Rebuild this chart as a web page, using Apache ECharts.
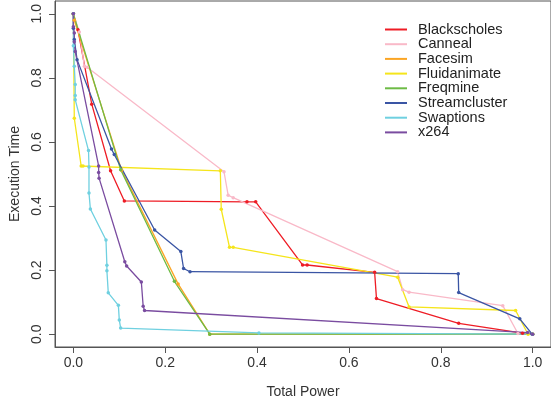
<!DOCTYPE html>
<html>
<head>
<meta charset="utf-8">
<script src="https://cdn.jsdelivr.net/npm/echarts@6/dist/echarts.min.js"></script>
<style>
html,body{margin:0;padding:0;background:#fff;}
#chart{width:551px;height:404px;}
</style>
</head>
<body>
<div id="chart"></div>
<script>
// Tick values
const xTicks = [0, 0.2, 0.4, 0.6, 0.8, 1.0];
const yTicks = [0, 0.2, 0.4, 0.6, 0.8, 1.0];

// Series names
const seriesNames = ['Blackscholes','Canneal','Facesim','Fluidanimate','Freqmine','Streamcluster','Swaptions','x264'];

// [Total Power, Execution Time]
const blackscholes = [[0,1.0],[0.01,0.95],[0.04,0.718],[0.081,0.51],[0.111,0.416],[0.378,0.413],[0.397,0.413],[0.499,0.216],[0.509,0.216],[0.656,0.193],[0.66,0.111],[0.839,0.034],[0.978,0.003],[1.0,0.0]];
const canneal = [[0,1.0],[0.013,0.943],[0.024,0.836],[0.03,0.833],[0.328,0.507],[0.337,0.434],[0.348,0.426],[0.706,0.195],[0.717,0.139],[0.731,0.131],[0.935,0.089],[0.968,0.002],[1.0,0.0]];
const facesim = [[0,1.0],[0.002,0.98],[0.105,0.512],[0.228,0.157],[0.297,0.0],[1.0,0.0]];
const fluidanimate = [[0,1.0],[0.002,0.674],[0.017,0.525],[0.021,0.525],[0.32,0.51],[0.322,0.39],[0.34,0.271],[0.348,0.271],[0.706,0.178],[0.731,0.085],[0.963,0.074],[0.99,0.0],[1.0,0.0]];
const freqmine = [[0,1.0],[0.103,0.513],[0.22,0.165],[0.297,0.0],[1.0,0.0]];
const streamcluster = [[0,1.0],[0.0,0.955],[0.002,0.92],[0.008,0.857],[0.083,0.578],[0.089,0.561],[0.177,0.325],[0.234,0.258],[0.24,0.205],[0.254,0.195],[0.838,0.189],[0.839,0.13],[0.972,0.048],[0.999,0.0]];
const swaptions = [[0,1.0],[0.0,0.9],[0.002,0.836],[0.004,0.779],[0.004,0.745],[0.004,0.732],[0.033,0.573],[0.034,0.522],[0.034,0.441],[0.037,0.391],[0.071,0.294],[0.073,0.215],[0.073,0.198],[0.076,0.129],[0.098,0.09],[0.1,0.044],[0.103,0.019],[0.404,0.004],[1.0,0.0]];
const x264 = [[0,1.0],[0.0,0.96],[0.002,0.94],[0.002,0.913],[0.004,0.882],[0.055,0.525],[0.055,0.505],[0.056,0.487],[0.112,0.226],[0.116,0.213],[0.148,0.163],[0.152,0.087],[0.155,0.074],[0.989,0.005],[1.0,0.0]];

const seriesData = [blackscholes, canneal, facesim, fluidanimate, freqmine, streamcluster, swaptions, x264];
const colors = ['#EE1C25','#F9B9C8','#FBA524','#F5E51B','#6DBB45','#3A55A4','#6FD0E0','#7A4CA0'];

const FONT = 'Liberation Sans, Arial, Helvetica, sans-serif';

const chart = echarts.init(document.getElementById('chart'), null, {renderer:'canvas'});
chart.setOption({
  animation: false,
  backgroundColor: '#fff',
  textStyle: {fontFamily: FONT},
  grid: {left: 55, top: 1, width: 500, height: 356, show: true, borderColor: '#555', borderWidth: 1, containLabel: false},
  legend: {
    orient: 'vertical', left: 385, top: 22, itemGap: -0.3, padding: 0,
    itemWidth: 22, itemHeight: 2, icon: 'rect',
    textStyle: {fontSize: 14.5, color: '#222', lineHeight: 14, padding: [0,0,0,6], fontFamily: FONT},
    data: seriesNames.map(function(n){ return {name: n, icon: 'rect'}; })
  },
  xAxis: {
    type: 'value', min: -0.04, max: 1.04,
    axisLine: {show: true, onZero: false, lineStyle: {color: '#555'}},
    axisTick: {show: true, customValues: xTicks, length: 6, lineStyle: {color: '#555'}},
    axisLabel: {customValues: xTicks, formatter: function(v){return v.toFixed(1);}, fontSize: 14, color: '#333', margin: 9, fontFamily: FONT},
    splitLine: {show: false},
    name: 'Total Power', nameLocation: 'middle', nameGap: 38,
    nameTextStyle: {fontSize: 14, color: '#333', fontFamily: FONT}
  },
  yAxis: {
    type: 'value', min: -0.04, max: 1.04,
    axisLine: {show: true, onZero: false, lineStyle: {color: '#555'}},
    axisTick: {show: true, customValues: yTicks, length: 6, lineStyle: {color: '#555'}},
    axisLabel: {customValues: yTicks, formatter: function(v){return v.toFixed(1);}, fontSize: 14, color: '#333', margin: 11, rotate: 90, fontFamily: FONT},
    splitLine: {show: false},
    name: 'Execution Time', nameLocation: 'middle', nameGap: 31,
    nameTextStyle: {fontSize: 14, color: '#333', fontFamily: FONT}
  },
  series: seriesNames.map(function(n, i){
    return {
      name: n, type: 'line', data: seriesData[i],
      color: colors[i],
      lineStyle: {width: 1.3, color: colors[i]},
      itemStyle: {color: colors[i]},
      symbol: 'circle', symbolSize: 3.5, showSymbol: true,
      emphasis: {disabled: true}
    };
  })
});
</script>
</body>
</html>
